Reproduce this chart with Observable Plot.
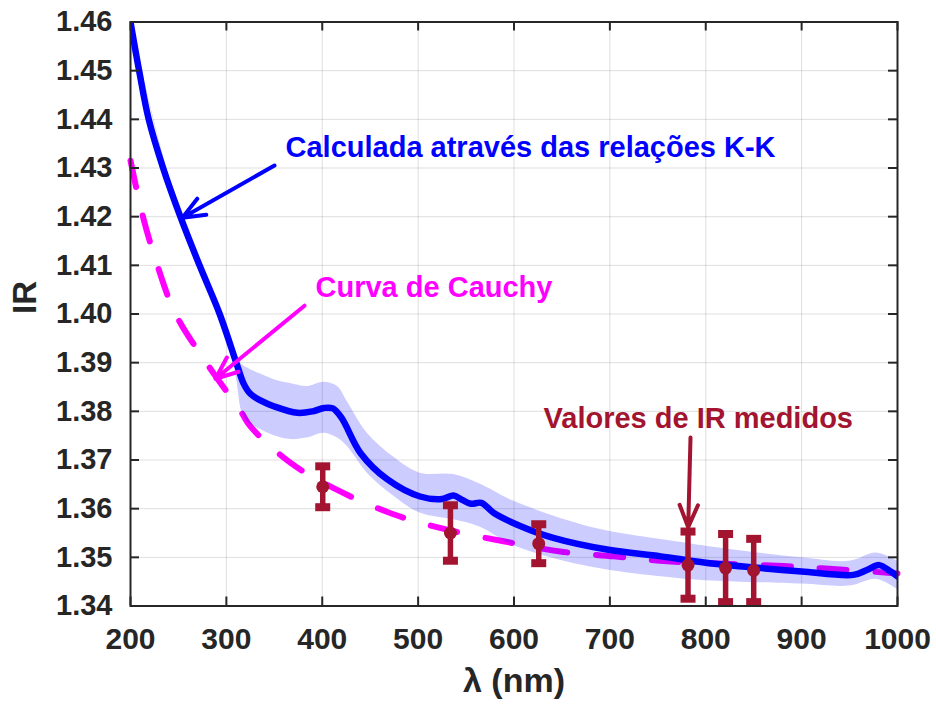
<!DOCTYPE html>
<html>
<head>
<meta charset="utf-8">
<script src="https://cdn.jsdelivr.net/npm/d3@7"></script>
<script src="https://cdn.jsdelivr.net/npm/@observablehq/plot@0.6"></script>
<style>
  body { margin: 0; background: #fff; }
  #chart svg { display: block; }
</style>
</head>
<body>
<div id="chart"></div>
<script>
// Refractive index computed through the Kramers–Kronig relations
const kkLambda = [200, 209, 219, 234, 252, 272, 293, 312, 318, 325, 336, 350, 374, 390, 402, 411, 420, 440, 468, 502, 525, 537, 546, 555, 566, 579, 607, 641, 697, 753, 800, 857, 900, 954, 968, 981, 992, 1000];
const kkIndex  = [1.4600, 1.4500, 1.4400, 1.4300, 1.4200, 1.4100, 1.4000, 1.3890, 1.3857, 1.3836, 1.3822, 1.3810, 1.3797, 1.3800, 1.3807, 1.3806, 1.3787, 1.3714, 1.3660, 1.3625, 1.3620, 1.3627, 1.3618, 1.3610, 1.3612, 1.3591, 1.3564, 1.3540, 1.3516, 1.3502, 1.3489, 1.3478, 1.3471, 1.3464, 1.3474, 1.3484, 1.3472, 1.3461];

// Uncertainty band around the K-K curve
const bandLambda = [200, 252, 293, 303, 311, 316, 322, 335, 350, 367, 384, 402, 416, 426, 447, 475, 502, 537, 565, 600, 680, 773, 800, 900, 950, 978, 1000];
const bandUpper  = [1.4602, 1.4204, 1.4010, 1.3965, 1.3912, 1.3897, 1.3889, 1.3877, 1.3865, 1.3857, 1.3851, 1.3860, 1.3851, 1.3820, 1.3755, 1.3705, 1.3673, 1.3670, 1.3650, 1.3615, 1.3562, 1.3531, 1.3523, 1.3499, 1.3492, 1.3509, 1.3492];
const bandLower  = [1.4598, 1.4196, 1.3992, 1.3940, 1.3862, 1.3800, 1.3778, 1.3763, 1.3750, 1.3742, 1.3745, 1.3755, 1.3745, 1.3728, 1.3673, 1.3625, 1.3591, 1.3577, 1.3562, 1.3524, 1.3480, 1.3456, 1.3452, 1.3445, 1.3441, 1.3455, 1.3434];

// Cauchy dispersion curve
const cauchyLambda = [200, 213, 228, 247, 279, 315, 325, 367, 415, 475, 530, 589, 648, 704, 760, 881, 940, 1000];
const cauchyIndex  = [1.4315, 1.4200, 1.4100, 1.4000, 1.3900, 1.3800, 1.3769, 1.3694, 1.3639, 1.3588, 1.3557, 1.3533, 1.3512, 1.3502, 1.3492, 1.3482, 1.3475, 1.3467];

// Measured refractive index with its uncertainty
const measLambda = [400.5, 533.7, 625.8, 781.5, 820.7, 850.0];
const measIndex  = [1.3645, 1.3550, 1.3528, 1.3484, 1.3478, 1.3473];
const measError  = [0.0042, 0.0057, 0.0040, 0.0069, 0.0070, 0.0065];

// Axis ticks
const xTicks = [200, 300, 400, 500, 600, 700, 800, 900, 1000];
const yTicks = [1.34, 1.35, 1.36, 1.37, 1.38, 1.39, 1.40, 1.41, 1.42, 1.43, 1.44, 1.45, 1.46];

// Callouts: label anchor and arrow (tail -> head), in data units
const noteText   = ["Calculada através das relações K-K", "Curva de Cauchy", "Valores de IR medidos"];
const noteColor  = ["#0000ff", "#ff00ff", "#a2142f"];
const noteX      = [361.7, 393.0, 630.8];
const noteY      = [1.4341, 1.4055, 1.3785];
const arrowX1    = [350.2, 381.5, 784.1];
const arrowY1    = [1.4305, 1.4017, 1.3746];
const arrowX2    = [254.2, 288.7, 781.7];
const arrowY2    = [1.4198, 1.3867, 1.3562];

const kk = kkLambda.map((x, i) => ({x, y: kkIndex[i]}));
const band = bandLambda.map((x, i) => ({x, hi: bandUpper[i], lo: bandLower[i]}));
const cauchy = cauchyLambda.map((x, i) => ({x, y: cauchyIndex[i]}));
const meas = measLambda.map((x, i) => ({x, y: measIndex[i], lo: measIndex[i] - measError[i], hi: measIndex[i] + measError[i]}));
const notes = noteText.map((text, i) => ({
  text, color: noteColor[i], x: noteX[i], y: noteY[i],
  x1: arrowX1[i], y1: arrowY1[i], x2: arrowX2[i], y2: arrowY2[i]
}));

// Flat rectangular cap for the error bars
const capSymbol = {draw(context) { context.rect(-7.5, -4, 15, 8); }};

const ink = "#262626";
const font = "'Liberation Sans', Arial, Helvetica, sans-serif";

const chart = Plot.plot({
  width: 936,
  height: 709,
  marginLeft: 130,
  marginRight: 39,
  marginTop: 21.5,
  marginBottom: 103.5,
  style: {fontFamily: font, fontWeight: "bold", color: ink, background: "#fff", overflow: "visible"},
  x: {domain: [200, 1000]},
  y: {domain: [1.34, 1.46]},
  marks: [
    Plot.gridX(xTicks, {stroke: ink, strokeOpacity: 0.15, strokeWidth: 1}),
    Plot.gridY(yTicks, {stroke: ink, strokeOpacity: 0.15, strokeWidth: 1}),
    Plot.lineY(cauchy, {x: "x", y: "y", stroke: "#ff00ff", strokeWidth: 6, strokeDasharray: "27,29", curve: "catmull-rom"}),
    Plot.areaY(band, {x: "x", y1: "lo", y2: "hi", fill: "#0000ff", fillOpacity: 0.2, curve: "catmull-rom"}),
    Plot.lineY(kk, {x: "x", y: "y", stroke: "#0000ff", strokeWidth: 6.5, curve: "catmull-rom", clip: true}),
    Plot.ruleX(meas, {x: "x", y1: "lo", y2: "hi", stroke: "#a2142f", strokeWidth: 5.5}),
    Plot.dot(meas, {x: "x", y: "lo", symbol: capSymbol, fill: "#a2142f", stroke: "none"}),
    Plot.dot(meas, {x: "x", y: "hi", symbol: capSymbol, fill: "#a2142f", stroke: "none"}),
    Plot.dot(meas, {x: "x", y: "y", r: 6.5, fill: "#a2142f", stroke: "none"}),
    ...notes.map(n => Plot.arrow([n], {x1: "x1", y1: "y1", x2: "x2", y2: "y2", stroke: n.color, strokeWidth: 4, headLength: 9, headAngle: 45})),
    ...notes.map(n => Plot.text([n], {x: "x", y: "y", text: "text", fill: n.color, textAnchor: "start", lineAnchor: "middle", fontSize: 29, fontWeight: "bold"})),
    // Box and inward ticks on all four sides
    Plot.frame({stroke: ink, strokeWidth: 2}),
    Plot.tickX(xTicks, {x: d => d, stroke: ink, strokeWidth: 2, insetTop: 575}),
    Plot.tickX(xTicks, {x: d => d, stroke: ink, strokeWidth: 2, insetBottom: 575}),
    Plot.tickY(yTicks, {y: d => d, stroke: ink, strokeWidth: 2, insetRight: 758}),
    Plot.tickY(yTicks, {y: d => d, stroke: ink, strokeWidth: 2, insetLeft: 758}),
    Plot.axisX(xTicks, {anchor: "bottom", tickSize: 0, tickPadding: 22, label: null, tickFormat: d => String(d), fontSize: 30, fontWeight: "bold", fill: ink}),
    Plot.axisY(yTicks, {anchor: "left", tickSize: 0, tickPadding: 18, label: null, tickFormat: ".2f", fontSize: 29, fontWeight: "bold", fill: ink}),
    Plot.text(["λ (nm)"], {frameAnchor: "bottom", text: d => d, dy: 86, fontSize: 34, fontWeight: "bold", fill: ink}),
    Plot.text(["IR"], {frameAnchor: "left", text: d => d, rotate: -90, dx: -105.5, fontSize: 33, fontWeight: "bold", fill: ink})
  ]
});

document.getElementById("chart").append(chart);
</script>
</body>
</html>
